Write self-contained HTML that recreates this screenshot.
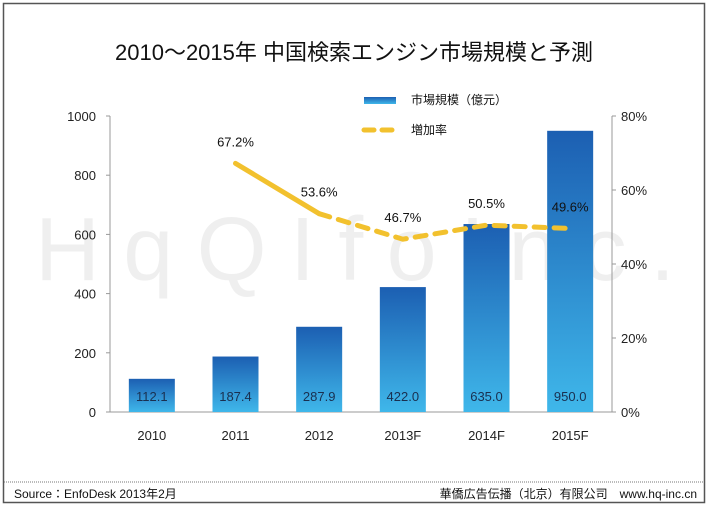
<!DOCTYPE html>
<html><head><meta charset="utf-8"><style>
body{margin:0;background:#fff;}
svg text{font-family:"Liberation Sans","Noto Sans CJK JP",sans-serif;}
</style></head><body>
<svg width="709" height="506" viewBox="0 0 709 506">
<defs>
<linearGradient id="bg" x1="0" y1="0" x2="0" y2="1">
<stop offset="0" stop-color="#1c5fb2"/><stop offset="1" stop-color="#3fb7ea"/>
</linearGradient>
</defs>
<rect x="3.5" y="3.5" width="701" height="499" fill="#fff" stroke="#555" stroke-width="1.5"/>
<line x1="4" y1="482" x2="704" y2="482" stroke="#777" stroke-dasharray="1 1"/>
<text x="354" y="60" font-size="22" text-anchor="middle" fill="#111">2010～2015年 中国検索エンジン市場規模と予測</text>
<text x="35" y="280" font-size="90" fill="#000" opacity="0.06" textLength="640">HqQIfoInc.</text>
<g id="axes"></g>
<g id="bars"></g>
<g id="line"></g>
<rect x="364" y="97" width="32" height="7" fill="url(#bg)"/>
<text x="411" y="104" font-size="12" fill="#111">市場規模（億元）</text>
<line x1="364" y1="130" x2="396" y2="130" stroke="#f2c12e" stroke-width="5" stroke-dasharray="10 8" stroke-linecap="round"/>
<text x="411" y="134" font-size="12" fill="#111">増加率</text>
<text x="14" y="498" font-size="12" fill="#111">Source：EnfoDesk 2013年2月</text>
<text x="697" y="498" font-size="12" fill="#111" text-anchor="end">華僑広告伝播（北京）有限公司　www.hq-inc.cn</text>
</svg>
<script>
const categories=["2010","2011","2012","2013F","2014F","2015F"];
const marketSize=[112.1,187.4,287.9,422.0,635.0,950.0];
const growthRate=[null,67.2,53.6,46.7,50.5,49.6];
const leftTicks=[0,200,400,600,800,1000];
const rightTicks=[0,20,40,60,80];
const NS="http://www.w3.org/2000/svg";
const X0=110,X1=612,Y0=412,Y1=116;
const band=(X1-X0)/categories.length;
const xc=i=>X0+band*(i+0.5);
const yL=v=>Y0-(v/1000)*(Y0-Y1);
const yR=v=>Y0-(v/80)*(Y0-Y1);
function mk(tag,attrs,parent,txt){const e=document.createElementNS(NS,tag);for(const k in attrs)e.setAttribute(k,attrs[k]);if(txt!==undefined)e.textContent=txt;document.getElementById(parent).appendChild(e);return e;}
let e;
e=mk("line",{x1:X0,y1:Y0,x2:X1,y2:Y0,stroke:"#999"},"axes");


e=mk("line",{x1:X0,y1:Y0,x2:X0,y2:Y1,stroke:"#999"},"axes");


e=mk("line",{x1:X1,y1:Y0,x2:X1,y2:Y1,stroke:"#999"},"axes");


leftTicks.forEach(t=>{
 mk("line",{x1:X0-4,y1:yL(t),x2:X0,y2:yL(t),stroke:"#999"},"axes");
 e=mk("text",{x:X0-14,y:yL(t)+5,"font-size":13,"text-anchor":"end",fill:"#222"},"axes",String(t));
 
 
});
rightTicks.forEach(t=>{
 mk("line",{x1:X1,y1:yR(t),x2:X1+4,y2:yR(t),stroke:"#999"},"axes");
 e=mk("text",{x:X1+9,y:yR(t)+5,"font-size":13,fill:"#222"},"axes",t+"%");
 
 
});
categories.forEach((c,i)=>{
 e=mk("text",{x:xc(i),y:440,"font-size":13,"text-anchor":"middle",fill:"#222"},"axes",c);
 
 
 const v=marketSize[i];
 e=mk("rect",{x:xc(i)-23,y:yL(v),width:46,height:Y0-yL(v),fill:"url(#bg)"},"bars");
 
 
 e=mk("text",{x:xc(i),y:401,"font-size":13,"text-anchor":"middle",fill:"#1a3050"},"bars",v.toFixed(1));
 
 
});
const pts=[];growthRate.forEach((r,i)=>{if(r!==null)pts.push([xc(i),yR(r),r]);});
e=mk("line",{x1:pts[0][0],y1:pts[0][1],x2:pts[1][0],y2:pts[1][1],stroke:"#f2c12e","stroke-width":5,"stroke-linecap":"round"},"line");


e=mk("polyline",{points:pts.slice(1).map(p=>p[0]+","+p[1]).join(" "),fill:"none",stroke:"#f2c12e","stroke-width":5,"stroke-dasharray":"11 9","stroke-linecap":"round"},"line");


pts.forEach(p=>{
 e=mk("text",{x:p[0],y:p[1]-17,"font-size":13,"text-anchor":"middle",fill:"#111"},"line",p[2].toFixed(1)+"%");
 
 
});
</script>
</body></html>
